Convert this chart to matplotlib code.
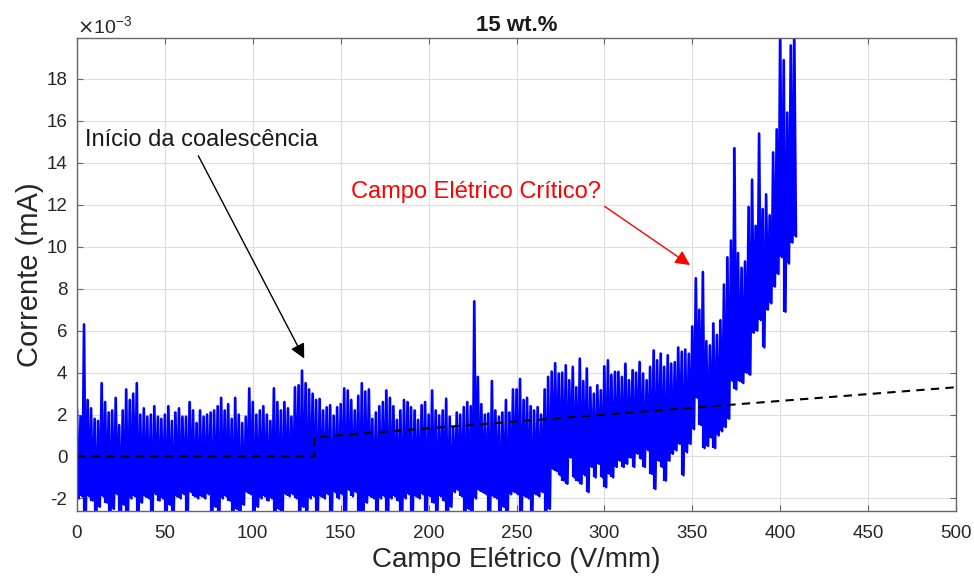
import numpy as np
import matplotlib
matplotlib.use('Agg')
import matplotlib.pyplot as plt
from matplotlib.ticker import FuncFormatter

plt.rcParams['font.family'] = ['Liberation Sans', 'DejaVu Sans']
plt.rcParams['axes.unicode_minus'] = False

# electric field grid (V/mm): the peak of each step sits at x, the trough at x + 1
field_x = np.arange(0, 410, 2)

# current peaks / troughs, in units of 1e-3 mA
hi_0_68 = [2.2, 1.9, 6.3, 2.7, 2.3, 1.8, 1.7, 3.5, 2.6, 2.1, 2.2, 2.8, 1.5, 2.2, 3.2, 2.7, 3.0, 3.5,
           2.0, 2.3, 1.9, 2.0, 2.4, 1.9, 1.8, 2.0, 2.4, 1.7, 2.1, 2.3, 1.9, 1.9, 2.6, 2.2, 1.6]
hi_70_134 = [2.2, 1.9, 2.0, 2.1, 2.2, 2.4, 2.8, 2.2, 2.5, 1.8, 2.8, 2.0, 1.6, 1.9, 3.25, 2.6, 2.0,
             2.2, 2.4, 2.0, 1.7, 3.25, 2.6, 2.2, 2.6, 2.3, 1.9, 3.3, 3.4, 4.1, 3.5, 3.2, 3.0]
hi_136_204 = [2.7, 2.75, 2.2, 2.35, 2.45, 1.95, 2.35, 2.5, 3.25, 3.15, 2.7, 2.2, 2.9, 3.5, 3.1, 3.2,
              1.8, 2.1, 2.4, 2.6, 3.15, 2.8, 2.4, 1.75, 2.2, 2.7, 2.6, 2.35, 2.2, 1.75, 2.45, 2.6,
              2.0, 3.15, 2.2]
hi_206_270 = [1.96, 2.2, 2.76, 1.9, 1.4, 2.1, 2.0, 2.36, 2.6, 2.4, 7.4, 3.8, 2.5, 2.0, 2.05, 3.6,
              2.2, 1.9, 2.1, 2.7, 2.1, 3.2, 3.2, 3.7, 2.7, 2.8, 2.4, 2.2, 2.36, 2.0, 3.2, 3.8, 4.05]
hi_272_342 = [4.45, 3.96, 4.0, 4.35, 3.64, 4.28, 3.3, 4.67, 3.6, 4.2, 3.3, 3.0, 3.4, 3.16, 4.3, 4.59,
              3.9, 4.04, 4.04, 3.8, 4.43, 3.64, 4.12, 4.0, 4.51, 3.96, 3.64, 4.28, 5.06, 4.59, 4.91,
              4.28, 4.83, 4.43, 4.5, 5.2]
hi_344_408 = [5.0, 5.1, 4.9, 6.2, 8.5, 7.0, 8.8, 5.5, 5.3, 6.35, 5.8, 6.5, 8.2, 9.5, 10.3, 14.7,
              9.7, 9.0, 9.3, 11.9, 13.2, 11.0, 15.4, 11.8, 12.5, 11.5, 14.5, 15.6, 20.5, 18.9,
              16.4, 19.6, 20.5]

lo_0_68 = [-2.0, -1.9, -3.0, -1.9, -2.1, -3.0, -2.4, -1.9, -2.2, -3.0, -2.5, -1.8, -3.0, -2.3, -3.0,
           -2.0, -1.9, -3.0, -2.2, -1.9, -2.0, -3.0, -1.8, -2.1, -2.0, -3.0, -2.3, -3.0, -1.9, -2.0,
           -1.8, -3.0, -1.7, -1.9, -2.0]
lo_70_134 = [-1.9, -2.0, -1.8, -3.0, -2.4, -3.0, -2.0, -1.9, -2.1, -3.0, -2.5, -3.0, -2.3, -1.7,
             -1.8, -3.0, -2.4, -2.0, -1.9, -2.1, -2.0, -3.0, -2.5, -3.0, -1.8, -1.9, -1.8, -2.0,
             -3.0, -2.4, -3.0, -2.0, -1.9]
lo_136_204 = [-3.0, -1.9, -2.0, -1.8, -3.0, -1.7, -2.0, -1.8, -3.0, -1.6, -1.9, -1.7, -2.8, -3.0,
              -2.2, -1.9, -2.0, -3.0, -2.0, -1.9, -3.0, -2.0, -1.9, -2.1, -3.0, -2.0, -1.8, -3.0,
              -1.9, -2.0, -1.8, -3.0, -1.9, -2.2, -3.0]
lo_206_270 = [-1.9, -2.1, -3.0, -2.4, -1.7, -1.6, -1.9, -3.0, -2.5, -3.0, -2.0, -1.6, -1.7, -1.8,
              -3.0, -1.9, -2.0, -3.0, -2.4, -3.0, -1.8, -1.7, -1.8, -3.0, -1.9, -2.0, -3.0, -1.8,
              -1.9, -1.7, -2.6, -2.5, -0.6]
lo_272_342 = [-0.7, -0.9, -1.15, -1.3, -0.05, -1.0, -1.15, -1.3, -0.9, -1.7, -0.5, -1.0, -0.35,
              -1.0, -1.47, -0.83, -1.0, -0.5, -0.2, -0.5, -0.35, -0.05, -0.5, 0.13, -0.1, -0.5,
              0.29, -0.83, -1.55, -0.2, -0.5, -1.15, -0.2, 0.13, 0.29, 0.6]
lo_344_408 = [-0.9, 0.2, 0.6, 1.3, 2.8, 1.5, 0.4, 0.5, 0.9, 0.4, 1.0, 1.2, 1.4, 1.8, 3.6, 3.2, 3.6,
              3.5, 4.0, 3.9, 5.9, 6.0, 6.5, 5.2, 7.0, 7.3, 8.1, 8.7, 9.5, 6.9, 9.2, 10.2, 10.5]

# dashed reference line (knots)
ref_x = [0, 135, 135, 500]
ref_y = [0.0, 0.0, 0.92, 3.3]

hi = np.array(hi_0_68 + hi_70_134 + hi_136_204 + hi_206_270 + hi_272_342 + hi_344_408)
lo = np.array(lo_0_68 + lo_70_134 + lo_136_204 + lo_206_270 + lo_272_342 + lo_344_408)

xs = np.column_stack([field_x, field_x + 1]).ravel()
ys = np.column_stack([hi, lo]).ravel() * 1e-3

fig = plt.figure(figsize=(9.74, 5.83), dpi=100)
ax = fig.add_axes([77 / 974, 1 - 511 / 583, 879 / 974, 473 / 583])

ax.vlines(field_x, lo * 1e-3, hi * 1e-3, color='#0000ff', lw=1.6)
ax.plot(xs, ys, color='#0000ff', lw=1.8)
ax.plot(ref_x, np.array(ref_y) * 1e-3, color='black', lw=1.5, dashes=(4, 3))

ax.set_xlim(0, 500)
ax.set_ylim(-2.6e-3, 19.95e-3)
ax.set_xticks(np.arange(0, 501, 50))
ax.set_yticks(np.arange(-2, 19, 2) * 1e-3)
ax.yaxis.set_major_formatter(FuncFormatter(lambda v, p: '%d' % round(v * 1e3)))
ax.text(0.0, 1.0, r'$\times$10$^{\mathregular{-3}}$', transform=ax.transAxes,
        fontsize=14, color='#262626', ha='left', va='bottom')

ax.grid(True, color='#dedede', lw=0.8)
ax.set_axisbelow(True)
for s in ax.spines.values():
    s.set_color('#666666')
    s.set_linewidth(1.0)
ax.tick_params(direction='in', top=True, right=True, length=4, width=0.8, color='#666666',
               labelsize=13.5, labelcolor='#262626')
ax.tick_params(axis='x', pad=10)
ax.tick_params(axis='y', pad=7)

ax.set_title('15 wt.%', fontsize=16, fontweight='bold', color='#1a1a1a', pad=5)
ax.set_xlabel('Campo Elétrico (V/mm)', fontsize=20, color='#262626', labelpad=4)
ax.set_ylabel('Corrente (mA)', fontsize=21, color='#262626', labelpad=2)

ax.text(4.6, 15.07e-3, 'Início da coalescência', fontsize=17, color='#1a1a1a',
        ha='left', va='center')
ax.annotate('', xy=(130, 4.55e-3), xytext=(68.3, 14.45e-3),
            arrowprops=dict(arrowstyle='-|>', color='black', lw=1.0, mutation_scale=22))

ax.text(156, 12.6e-3, 'Campo Elétrico Crítico?', fontsize=17, color='#ff0000',
        ha='left', va='center')
ax.annotate('', xy=(350, 9.05e-3), xytext=(298.8, 12.0e-3),
            arrowprops=dict(arrowstyle='-|>', color='#ff0000', lw=1.0, mutation_scale=22))

fig.savefig('out.png', dpi=100)
